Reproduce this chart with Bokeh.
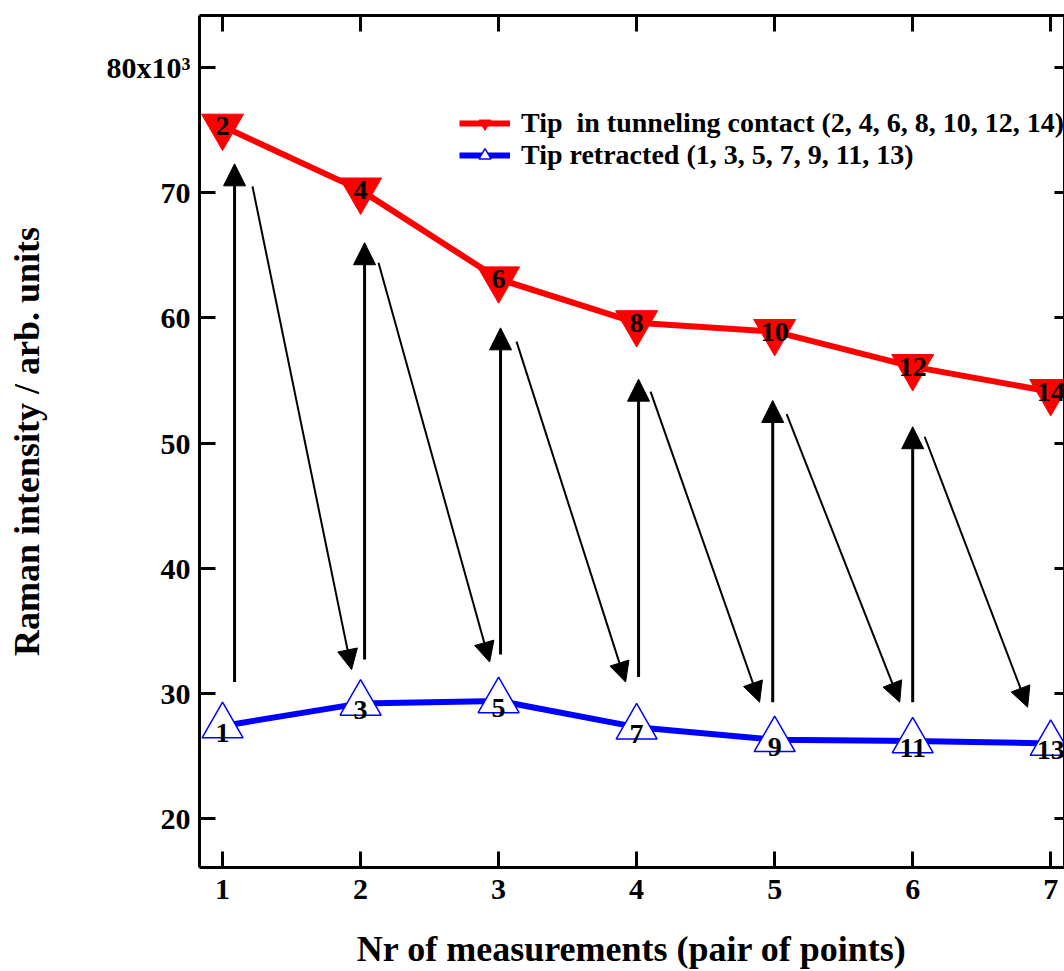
from bokeh.plotting import figure
from bokeh.models import (ColumnDataSource, Arrow, NormalHead, LinearAxis, FixedTicker,
                          Legend, LegendItem, Range1d)
from bokeh.core.properties import value
from bokeh.embed import file_html
from bokeh.resources import INLINE

# Measurement pairs (x axis)
pairs = [1, 2, 3, 4, 5, 6, 7]

# Tip in tunneling contact: even-numbered measurements, intensity in 10^3 arb. units
contact_ids = ["2", "4", "6", "8", "10", "12", "14"]
contact_vals = [75.3, 70.2, 63.1, 59.6, 58.9, 56.1, 54.1]

# Tip retracted: odd-numbered measurements
retract_ids = ["1", "3", "5", "7", "9", "11", "13"]
retract_vals = [27.4, 29.2, 29.4, 27.3, 26.3, 26.2, 26.0]

# Approach arrows (retracted -> contact)
up_x = [1.087, 2.029, 3.014, 4.014, 4.986, 6.0]
up_from = [30.9, 32.7, 33.1, 31.3, 29.3, 29.3]
up_to = [72.3, 66.0, 59.2, 55.1, 53.4, 51.3]

# Retraction arrows (contact -> next retracted)
down_x0 = [1.217, 2.130, 3.130, 4.101, 5.087, 6.087]
down_y0 = [70.5, 64.4, 58.1, 54.1, 52.3, 50.5]
down_x1 = [1.935, 2.935, 3.920, 4.891, 5.906, 6.833]
down_y1 = [31.9, 32.5, 30.9, 29.3, 29.3, 28.9]

x_ticks = [1, 2, 3, 4, 5, 6, 7]
y_ticks = [20, 30, 40, 50, 60, 70, 80]
y_tick_labels = {20: "20", 30: "30", 40: "40", 50: "50", 60: "60", 70: "70", 80: "80x10³"}

FONT = "Liberation Serif"
RED = "#ff0000"
BLUE = "#0000ff"

contact = ColumnDataSource(dict(x=pairs, y=contact_vals, lab=contact_ids))
retract = ColumnDataSource(dict(x=pairs, y=retract_vals, lab=retract_ids))
ups = ColumnDataSource(dict(x0=up_x, y0=up_from, x1=up_x, y1=up_to))
downs = ColumnDataSource(dict(x0=down_x0, y0=down_y0, x1=down_x1, y1=down_y1))

p = figure(width=1064, height=971, output_backend="svg", toolbar_location=None,
           x_range=Range1d(0.833, 7.10), y_range=Range1d(16.09, 84.15),
           min_border_left=199, min_border_right=0, min_border_top=15,
           min_border_bottom=103)
p.grid.visible = False
p.outline_line_color = None
p.background_fill_color = "white"
p.border_fill_color = "white"

def style_axis(ax, ticks, show_labels, tick_in=16):
    ax.ticker = FixedTicker(ticks=ticks)
    ax.axis_line_width = 3
    ax.axis_line_color = "black"
    ax.major_tick_line_width = 3
    ax.major_tick_in = tick_in
    ax.major_tick_out = 0
    ax.minor_tick_line_color = None
    if show_labels:
        ax.major_label_text_font = FONT
        ax.major_label_text_font_style = "bold"
        ax.major_label_text_font_size = "30px"
        ax.major_label_text_color = "black"
    else:
        # tick marks only on the mirrored sides of the frame
        ax.major_label_text_font_size = "1px"
        ax.major_label_text_color = None
        ax.major_label_standoff = 0

xb = p.xaxis[0]
style_axis(xb, x_ticks, True)
xb.major_label_standoff = 12
xb.axis_label = "Nr of measurements (pair of points)"
xb.axis_label_text_font = FONT
xb.axis_label_text_font_style = "bold"
xb.axis_label_text_font_size = "36px"
xb.axis_label_text_color = "black"
xb.axis_label_standoff = 27

yl = p.yaxis[0]
style_axis(yl, y_ticks, True)
yl.major_label_standoff = 9
yl.major_label_overrides = y_tick_labels
yl.axis_label = "Raman intensity / arb. units"
yl.axis_label_text_font = FONT
yl.axis_label_text_font_style = "bold"
yl.axis_label_text_font_size = "36px"
yl.axis_label_text_color = "black"
yl.axis_label_standoff = 57

xt = LinearAxis()
style_axis(xt, x_ticks, False)
p.add_layout(xt, "above")

yr = LinearAxis()
style_axis(yr, y_ticks, False, tick_in=10)
p.add_layout(yr, "right")

# Series lines
red_line = p.line("x", "y", source=contact, line_color=RED, line_width=6)
blue_line = p.line("x", "y", source=retract, line_color=BLUE, line_width=6)

# Arrows
p.add_layout(Arrow(source=ups, x_start="x0", y_start="y0", x_end="x1", y_end="y1",
                   line_width=3, line_color="black",
                   end=NormalHead(size=22, fill_color="black", line_color="black", line_width=1)))
p.add_layout(Arrow(source=downs, x_start="x0", y_start="y0", x_end="x1", y_end="y1",
                   line_width=2, line_color="black",
                   end=NormalHead(size=20, fill_color="black", line_color="black", line_width=1)))

# Markers
p.scatter("x", "y", source=contact, marker="inverted_triangle", size=42,
          fill_color=RED, line_color=RED, line_width=1)
p.scatter("x", "y", source=retract, marker="triangle", size=41,
          fill_color="white", line_color=BLUE, line_width=1.5)

# Measurement numbers inside markers
p.text("x", "y", text="lab", source=contact, text_font=value(FONT), text_font_style="bold",
       text_font_size="28px", text_align="center", text_baseline="middle", text_color="black")
p.text("x", "y", text="lab", source=retract, text_font=value(FONT), text_font_style="bold",
       text_font_size="28px", text_align="center", text_baseline="middle", text_color="black",
       y_offset=7)

# Legend glyphs (small markers on the line samples)
leg_red_m = p.scatter("x", "y", source=contact, marker="inverted_triangle", size=17,
                      fill_color=RED, line_color=RED, visible=False)
leg_blue_m = p.scatter("x", "y", source=retract, marker="triangle", size=17,
                       fill_color="white", line_color=BLUE, line_width=1.5, visible=False)
leg_red_l = p.line("x", "y", source=contact, line_color=RED, line_width=6, visible=False)
leg_blue_l = p.line("x", "y", source=retract, line_color=BLUE, line_width=6, visible=False)

legend = Legend(items=[
    LegendItem(label="Tip  in tunneling contact (2, 4, 6, 8, 10, 12, 14)",
               renderers=[leg_red_l, leg_red_m]),
    LegendItem(label="Tip retracted (1, 3, 5, 7, 9, 11, 13)",
               renderers=[leg_blue_l, leg_blue_m]),
])
legend.location = (260, 696)
legend.padding = 0
legend.margin = 0
legend.spacing = 0
legend.glyph_width = 51
legend.glyph_height = 30
legend.label_standoff = 11
legend.label_text_font = FONT
legend.label_text_font_style = "bold"
legend.label_text_font_size = "28px"
legend.label_text_color = "black"
legend.background_fill_alpha = 0
legend.border_line_color = None
p.add_layout(legend)

open("out.html", "w").write(file_html(p, INLINE))
